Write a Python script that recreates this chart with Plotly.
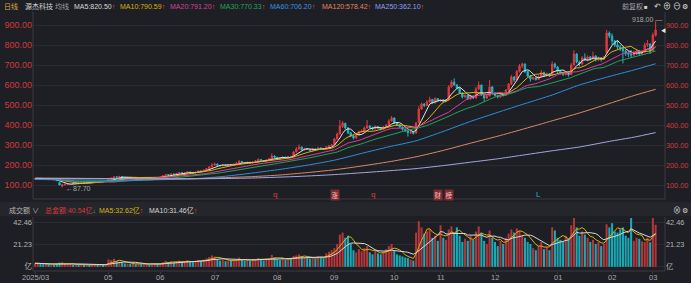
import plotly.graph_objects as go
import pandas as pd

W, H = 691, 283
BG = '#1e1f24'
RED = '#e0393e'
CYAN = '#1cb5c3'
VRED = '#b3363a'
VCYAN = '#18aab7'
GRID = '#2a2b30'
BORDER = '#3a3b41'
FONT = 'Liberation Sans, Arial, Noto Sans CJK SC, sans-serif'

# ---------------- data ----------------
open_ = [130,131,134,131,128,130,127,128,125,112,
         95,100,104,106,108,107,110,109,112,111,
         113,112,114,116,115,117,116,119,129,134,
         141,138,142,139,136,138,135,137,134,136,
         133,135,137,134,136,138,137,140,146,152,
         150,155,153,158,162,157,160,165,162,160,
         164,170,168,175,182,190,200,205,198,196,
         200,197,202,199,204,210,218,212,208,214,
         210,215,220,228,222,218,225,230,245,238,
         235,232,240,236,242,240,265,280,290,275,
         282,278,272,280,276,285,282,278,290,295,
         302,330,355,392,408,385,360,345,335,350,
         365,370,385,395,388,380,392,385,378,390,
         398,420,435,410,400,390,378,370,362,365,
         360,412,480,505,498,515,528,510,532,520,
         526,518,525,590,615,600,585,560,540,548,
         530,545,535,580,600,550,535,545,590,560,
         548,540,552,548,575,605,640,625,668,695,
         705,668,645,630,636,628,642,662,648,656,
         648,705,690,668,660,652,664,652,700,755,
         715,705,735,725,740,730,745,725,735,728,
         760,860,845,820,800,790,783,770,760,755,
         750,762,770,758,766,800,805,772,848]
high = [134,136,135,132,131,131,130,129,126,113,
        104,106,108,110,110,111,112,113,114,114,
        115,115,118,117,119,118,120,130,137,145,
        144,146,144,140,140,139,139,138,138,137,
        137,139,138,138,140,140,142,148,155,154,
        157,157,160,165,163,162,168,167,164,166,
        172,172,178,185,195,210,212,207,200,203,
        202,205,204,207,214,225,220,214,216,216,
        218,224,233,230,224,228,234,258,248,241,
        237,243,242,245,244,270,290,303,292,286,
        285,280,284,282,290,288,284,294,300,305,
        336,362,425,420,412,390,365,350,356,372,
        378,392,425,400,392,398,395,388,395,405,
        428,445,438,413,404,393,382,373,370,368,
        415,495,512,510,525,542,530,538,535,530,
        530,530,600,625,633,605,588,562,553,550,
        550,548,590,617,602,553,550,625,595,563,
        552,557,556,580,610,650,645,675,705,712,
        708,672,650,642,640,648,675,667,662,660,
        718,712,694,675,665,670,668,710,775,760,
        722,745,758,748,745,767,750,742,740,745,
        875,868,858,825,825,800,790,776,770,775,
        770,778,775,775,812,825,808,862,918]
low = [128,130,130,127,126,126,125,125,121,99,
       87.7,99,103,105,106,106,108,108,110,110,
       111,111,113,114,114,115,115,118,127,132,
       136,137,137,134,134,133,134,132,133,131,
       132,134,133,133,135,135,136,139,145,148,
       149,151,152,157,155,156,159,160,158,159,
       163,166,167,174,181,189,198,196,193,195,
       195,196,197,198,203,209,210,206,207,208,
       209,214,219,220,216,217,224,229,236,232,
       229,231,234,235,236,239,263,278,272,273,
       275,268,270,273,275,279,275,277,288,293,
       300,328,352,385,380,355,340,328,332,348,
       362,368,382,383,376,378,380,372,376,388,
       396,418,405,396,386,372,365,342,355,352,
       358,410,475,490,495,512,505,508,515,515,
       512,515,522,585,596,578,555,533,535,525,
       527,530,533,575,545,517,530,543,555,543,
       533,536,542,546,572,600,615,622,662,685,
       660,640,617,625,622,625,640,642,644,640,
       646,682,660,652,645,648,642,650,698,708,
       692,702,720,718,722,728,717,720,717,725,
       755,835,800,790,780,770,708,745,740,735,
       742,750,745,750,760,790,755,768,842]
close = [132,134,131,128,130,127,128,126,122,100,
         101,104,106,108,107,110,109,112,111,113,
         112,114,116,115,117,116,118,128,134,140,
         138,142,139,136,138,135,137,134,136,133,
         135,137,134,136,138,137,140,146,152,150,
         155,153,158,162,157,160,165,162,160,164,
         170,168,175,182,190,200,205,198,196,200,
         197,202,199,204,210,218,212,208,214,210,
         215,220,228,222,218,225,230,245,238,235,
         232,240,236,242,238,265,280,290,275,282,
         278,272,280,276,285,282,278,290,295,300,
         330,355,395,410,385,360,345,335,350,365,
         370,385,395,388,380,392,385,378,390,398,
         420,435,410,400,390,378,370,362,365,358,
         410,480,505,498,515,528,510,532,520,526,
         518,525,590,615,600,585,560,540,548,530,
         545,535,580,600,550,535,545,590,560,548,
         540,552,548,575,605,640,625,668,695,705,
         668,645,630,636,628,642,662,648,656,645,
         705,690,668,660,652,664,650,700,755,715,
         705,735,725,740,730,745,725,735,728,735,
         860,845,820,800,790,783,770,760,755,750,
         762,770,758,764,800,807,770,850,875]
amount = [3.5,3.0,2.8,2.5,3.2,2.6,2.4,2.2,2.8,4.0,
          4.5,3.2,2.6,2.4,2.0,2.2,1.9,2.1,1.8,2.0,
          1.8,1.9,2.2,1.7,2.5,1.9,2.6,7.0,6.5,7.8,
          5.5,5.0,4.0,3.2,3.0,2.8,3.1,2.5,2.9,2.6,
          2.4,2.8,2.3,2.5,3.0,2.7,3.2,4.5,5.8,4.2,
          5.0,4.0,5.2,6.0,4.5,4.2,6.5,5.0,4.6,5.2,
          6.5,5.5,7.0,8.0,9.5,11.0,10.0,7.5,6.0,6.5,
          5.5,6.2,5.8,6.5,7.5,9.0,7.0,5.8,6.8,6.0,
          7.0,7.5,8.5,7.0,6.2,7.8,8.0,11.5,9.0,7.5,
          6.8,8.0,7.0,8.2,7.5,10.5,11.0,12.0,9.5,9.0,
          8.5,8.0,9.5,8.2,10.0,9.0,8.5,13.0,14.5,16.0,
          18.0,22.0,31.0,33.0,28.0,30.0,22.0,16.0,14.0,17.0,
          15.0,18.0,20.0,14.0,12.0,16.0,13.0,12.0,15.0,17.0,
          20.0,22.0,16.0,12.0,11.0,10.0,9.0,8.5,7.0,6.0,
          33.0,44.0,38.0,32.0,34.0,36.0,28.0,30.0,25.0,40.0,
          28.0,26.0,36.0,39.0,33.0,38.0,30.0,24.0,27.0,25.0,
          30.0,26.0,34.0,39.0,33.0,25.0,22.0,35.0,28.0,24.0,
          20.0,25.0,22.0,28.0,32.0,36.0,33.0,37.0,35.0,30.0,
          28.0,24.0,22.0,18.0,16.0,20.0,24.0,17.0,19.0,16.0,
          38.0,35.0,28.0,26.0,24.0,30.0,27.0,40.0,47.0,38.0,
          30.0,34.0,31.0,28.0,24.0,26.0,22.0,24.0,20.0,22.0,
          41.0,38.0,42.0,34.0,33.0,36.0,38.0,30.0,28.0,47.0,
          25.0,28.0,27.0,24.5,24.0,28.0,23.6,47.0,40.54]

# long moving averages (trading-day index -> value)
ma60_idx = [0, 15, 30, 45, 59, 70, 80, 90, 100, 110, 120, 130, 140, 150, 160, 170, 180, 190, 200, 210, 220, 228]
ma60_val = [128, 125, 123, 126, 132, 144, 160, 178, 199, 224, 258, 291, 321, 368, 418, 463, 507, 550, 600, 639, 675, 706.2]
ma120_idx = [0, 20, 40, 60, 70, 80, 90, 100, 110, 119, 130, 140, 150, 160, 170, 180, 190, 200, 210, 220, 228]
ma120_val = [135, 133, 131, 132, 137, 142, 150, 162, 176, 193, 216, 241, 273, 309, 344, 382, 421, 460, 503, 547, 578.4]
ma250_idx = [0, 30, 60, 80, 97, 110, 127, 140, 150, 160, 170, 178, 190, 200, 211, 220, 228]
ma250_val = [132, 131, 131, 135, 143, 152, 168, 182, 197, 214, 231, 247, 271, 290, 318, 339, 362.1]

month_idx = [0, 27, 46, 66, 89, 110, 132, 149, 169, 192, 212, 227]
month_lbl = ['2025/03', '05', '06', '07', '08', '09', '10', '11', '12', '01', '02', '03']
price_ticks = [100, 200, 300, 400, 500, 600, 700, 800, 900]
vol_ticks = [0, 21.23, 42.46]
vol_tick_lbl = ['亿', '21.23', '42.46']

N = len(close)
xs = list(range(N))
cs = pd.Series(close, dtype=float)
vs = pd.Series(amount, dtype=float)

# ---------------- geometry ----------------
X0, X1 = 33, 665
XMIN, XMAX = -0.735, 231.45
MAIN_TOP, MAIN_BOT = 14, 199
VOL_TOP, VOL_BOT = 217, 271


def px(v):
    return v / W


def py(v):
    return 1 - v / H


fig = go.Figure()

fig.add_trace(go.Candlestick(
    x=xs, open=open_, high=high, low=low, close=close,
    increasing=dict(line=dict(color=RED, width=1), fillcolor=RED),
    decreasing=dict(line=dict(color=CYAN, width=1), fillcolor=CYAN),
    whiskerwidth=0, xaxis='x', yaxis='y', hoverinfo='skip', showlegend=False))

ma_short = [(5, '#e4e4e4'), (10, '#d9b20c'), (20, '#d23f9c'), (30, '#1fa35a')]
for win, col in ma_short:
    fig.add_trace(go.Scatter(x=xs, y=cs.rolling(win, min_periods=1).mean(), mode='lines',
                             line=dict(color=col, width=1), xaxis='x', yaxis='y',
                             hoverinfo='skip', showlegend=False))
for ix, iv, col in [(ma60_idx, ma60_val, '#2e8ddc'),
                    (ma120_idx, ma120_val, '#d9886b'),
                    (ma250_idx, ma250_val, '#a3a8e2')]:
    fig.add_trace(go.Scatter(x=ix, y=iv, mode='lines', line=dict(color=col, width=1, shape='spline', smoothing=0.6),
                             xaxis='x', yaxis='y', hoverinfo='skip', showlegend=False))

vcol = [VRED if c >= o else VCYAN for o, c in zip(open_, close)]
fig.add_trace(go.Bar(x=xs, y=amount, marker=dict(color=vcol, line=dict(width=0)),
                     xaxis='x2', yaxis='y2', hoverinfo='skip', showlegend=False))
fig.add_trace(go.Scatter(x=xs, y=vs.rolling(5, min_periods=1).mean(), mode='lines',
                         line=dict(color='#d9b20c', width=1), xaxis='x2', yaxis='y2',
                         hoverinfo='skip', showlegend=False))
fig.add_trace(go.Scatter(x=xs, y=vs.rolling(10, min_periods=1).mean(), mode='lines',
                         line=dict(color='#d8d8d8', width=1), xaxis='x2', yaxis='y2',
                         hoverinfo='skip', showlegend=False))
# invisible traces so the right-hand axes are drawn
fig.add_trace(go.Scatter(x=[0], y=[500], mode='markers', marker=dict(opacity=0),
                         xaxis='x', yaxis='y3', hoverinfo='skip', showlegend=False))
fig.add_trace(go.Scatter(x=[0], y=[10], mode='markers', marker=dict(opacity=0),
                         xaxis='x2', yaxis='y4', hoverinfo='skip', showlegend=False))

xdom = [px(X0), px(X1)]
main_dom = [py(MAIN_BOT), py(MAIN_TOP)]
vol_dom = [py(VOL_BOT), py(VOL_TOP)]
ptxt = [f'{v:.2f}' for v in price_ticks]

fig.update_layout(
    width=W, height=H, margin=dict(l=0, r=0, t=0, b=0, autoexpand=False),
    paper_bgcolor=BG, plot_bgcolor=BG, showlegend=False, hovermode=False,
    bargap=0.25,
    font=dict(family=FONT, color='#a0a0a0', size=8),
    xaxis=dict(domain=xdom, anchor='y', range=[XMIN, XMAX], autorange=False, automargin=False,
               showticklabels=False, showgrid=False, zeroline=False,
               rangeslider=dict(visible=False), ticks=''),
    xaxis2=dict(domain=xdom, anchor='y2', matches='x', range=[XMIN, XMAX], autorange=False,
                automargin=False, tickmode='array', tickvals=month_idx, showticklabels=False,
                ticks='outside', ticklen=2, tickcolor=BORDER, showgrid=False, zeroline=False),
    yaxis=dict(domain=main_dom, anchor='x', range=[30, 955], autorange=False, automargin=False,
               tickmode='array', tickvals=price_ticks, ticktext=ptxt,
               tickfont=dict(size=9, color='#d2393c'),
               showgrid=True, gridcolor=GRID, gridwidth=1, zeroline=False, side='left', ticks=''),
    yaxis3=dict(overlaying='y', anchor='x', side='right', range=[30, 955], autorange=False,
                automargin=False, tickmode='array', tickvals=price_ticks, ticktext=ptxt,
                tickfont=dict(size=7.3, color='#d2393c'), showgrid=False, zeroline=False, ticks=''),
    yaxis2=dict(domain=vol_dom, anchor='x2', range=[-4, 48], autorange=False, automargin=False,
                tickmode='array', tickvals=vol_ticks, ticktext=vol_tick_lbl,
                tickfont=dict(size=7.5, color='#b4b4b4'),
                showgrid=True, gridcolor=GRID, zeroline=False, side='left', ticks=''),
    yaxis4=dict(overlaying='y2', anchor='x2', side='right', range=[-4, 48], autorange=False,
                automargin=False, tickmode='array', tickvals=vol_ticks, ticktext=vol_tick_lbl,
                tickfont=dict(size=7.3, color='#b4b4b4'), showgrid=False, zeroline=False, ticks=''),
)

shapes = []
# volume header band
shapes.append(dict(type='rect', xref='paper', yref='paper', x0=0, x1=1, y0=py(216), y1=py(202),
                   fillcolor='#25262b', line=dict(width=0), layer='below'))
# panel borders
for xv in (X0, X1):
    shapes.append(dict(type='line', xref='paper', yref='paper', x0=px(xv), x1=px(xv),
                       y0=py(MAIN_BOT), y1=py(MAIN_TOP - 2), line=dict(color=BORDER, width=1)))
    shapes.append(dict(type='line', xref='paper', yref='paper', x0=px(xv), x1=px(xv),
                       y0=py(VOL_BOT), y1=py(VOL_TOP), line=dict(color=BORDER, width=1)))
for yv in (MAIN_BOT, VOL_BOT):
    shapes.append(dict(type='line', xref='paper', yref='paper', x0=px(X0), x1=px(X1),
                       y0=py(yv), y1=py(yv), line=dict(color=BORDER, width=1)))
fig.update_layout(shapes=shapes)

UP = "<span style='color:#ff3b3b'>↑</span>"
DN = "<span style='color:#22c55e'>↓</span>"


def ann(x, y, text, color, size=7, anchor='left', **kw):
    d = dict(x=px(x), y=py(y), xref='paper', yref='paper', text=text, showarrow=False,
             xanchor=anchor, yanchor='middle', font=dict(size=size, color=color, family=FONT))
    d.update(kw)
    return d


anns = [
    ann(2, 6.5, '日线', '#d9a445'),
    ann(23, 6.5, '源杰科技', '#cfcfcf'),
    ann(53, 6.5, '均线', '#9c9c9c'),
    ann(72, 6.5, 'MA5:820.50' + UP, '#d9d9d9'),
    ann(118, 6.5, 'MA10:790.59' + UP, '#d6b20e'),
    ann(168, 6.5, 'MA20:791.20' + UP, '#d4409c'),
    ann(218, 6.5, 'MA30:770.33' + UP, '#22a55c'),
    ann(268, 6.5, 'MA60:706.20' + UP, '#3b91e3'),
    ann(320, 6.5, 'MA120:578.42' + UP, '#e3835f'),
    ann(373, 6.5, 'MA250:362.10' + UP, '#8f9ff0'),
    ann(620, 6.5, '前复权', '#a8a8a8'),
    ann(646, 6.5, '■', '#d0d0d0', size=6, anchor='center'),
    ann(657, 6.5, '↶', '#d0d0d0', size=8, anchor='center'),
    ann(667, 6.5, '⊕', '#e0e0e0', size=8, anchor='center'),
    ann(677, 6.5, '⊖', '#e0e0e0', size=8, anchor='center'),
    ann(685, 6.5, '⚙', '#e0e0e0', size=7, anchor='center'),
    # price markers
    ann(630, 19.5, '918.00 —', '#a8a8a8', size=7),
    ann(663, 30.5, '◀', '#e8e8e8', size=5, anchor='center'),
    ann(64, 188.5, '←87.70', '#a8a8a8', size=7),
    # event markers
    ann(275, 194.5, 'q', '#e0393e', size=8, anchor='center'),
    ann(335, 194.5, '涨', '#f2c2c2', size=6.5, anchor='center', bgcolor='#7d2b2e', borderpad=0.5),
    ann(373, 194.5, 'q', '#e0393e', size=8, anchor='center'),
    ann(438, 194.5, '财', '#f2c2c2', size=6.5, anchor='center', bgcolor='#7d2b2e', borderpad=0.5),
    ann(449, 194.5, '榜', '#f2c2c2', size=6.5, anchor='center', bgcolor='#7d2b2e', borderpad=0.5),
    ann(538, 194.5, 'L', '#1cb5c3', size=8, anchor='center'),
    # volume header
    ann(7, 210, '成交额 ∨', '#b4b4b4'),
    ann(43, 210, '总金额:40.54亿' + DN, '#d8393c'),
    ann(97, 210, 'MA5:32.62亿' + UP, '#d6b20e'),
    ann(147, 210, 'MA10:31.46亿' + UP, '#d4d4d4'),
    ann(677, 210, '⊗', '#d0d0d0', size=8, anchor='center'),
    ann(685, 210, '⚙', '#d0d0d0', size=7, anchor='center'),
]
# month labels placed on the shared time axis
for mi, ml in zip(month_idx, month_lbl):
    anns.append(dict(x=mi, xref='x2', y=py(277), yref='paper', text=ml, showarrow=False,
                     xanchor='center', yanchor='middle',
                     font=dict(size=7.5, color='#a8a8a8', family=FONT)))
fig.update_layout(annotations=anns)

fig.write_html('out.html', config={'displayModeBar': False})
